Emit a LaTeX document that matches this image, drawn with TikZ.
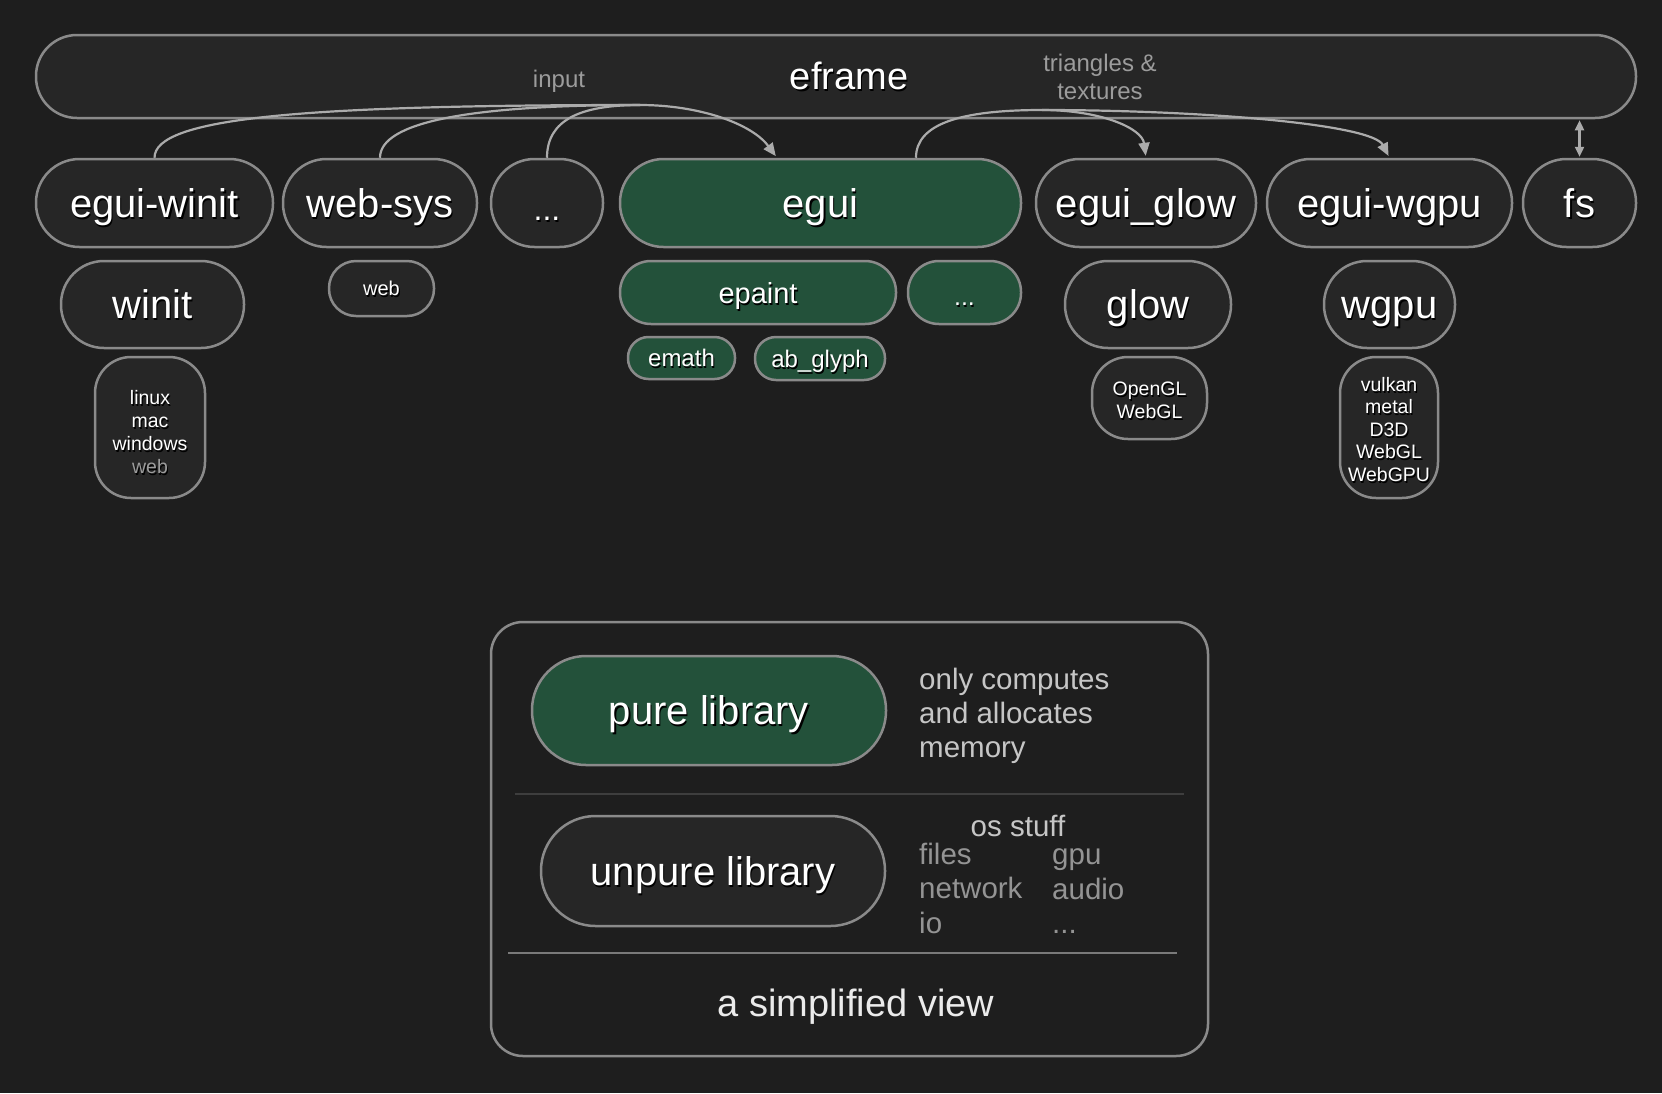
\documentclass[tikz,border=0pt]{standalone}
\usepackage{fontspec}
\setmainfont{Liberation Sans}
\usetikzlibrary{arrows.meta}
\definecolor{bg}{HTML}{1E1E1E}
\definecolor{nodefill}{HTML}{262626}
\definecolor{edgec}{HTML}{8A8A8A}
\definecolor{greenfill}{HTML}{23513A}
\definecolor{arrowc}{HTML}{ABABAB}
\definecolor{graytext}{HTML}{9C9C9C}
\definecolor{lighttext}{HTML}{C6C6C6}
\definecolor{dimtext}{HTML}{949494}
\definecolor{sepdark}{HTML}{3E3E3E}
\definecolor{seplight}{HTML}{7A7A7A}
\newcommand\shd[1]{\leavevmode\rlap{\kern1.2pt\raisebox{-2pt}{\textcolor{black}{#1}}}#1}
\newcommand\fsz[2]{\fontsize{#1}{#2}\selectfont}
\begin{document}
\begin{tikzpicture}[x=1pt,y=-1pt,
  pill/.style n args={3}{draw=edgec, line width=2.5pt, fill=nodefill,
    minimum width=#1, minimum height=#2, rounded corners=#3, inner sep=0pt,
    text=white},
  greenpill/.style n args={3}{pill={#1}{#2}{#3}, fill=greenfill},
  hugetxt/.style={font=\fsz{38}{44}, text height=35pt, text depth=7.8pt},
  bigtxt/.style={font=\fsz{40}{48}, text height=37pt, text depth=8.2pt},
  dotstxt/.style={font=\fsz{32}{38}, text height=41pt, text depth=6.4pt},
  midtxt/.style={font=\fsz{29}{34}, text height=27pt, text depth=6pt},
  smalltxt/.style={font=\fsz{24}{28}, text height=22.3pt, text depth=5pt},
  webtxt/.style={font=\fsz{20}{24}, text height=18.5pt, text depth=4.1pt},
  tinytxt/.style={font=\fsz{19.5}{22.8}},
  feed/.style={draw=arrowc, line width=2.2pt},
  conn/.style={feed, -{Triangle[length=13pt,width=11pt]}, shorten >=2pt},
  biconn/.style={feed, {Triangle[length=10pt,width=9pt]}-{Triangle[length=10pt,width=9pt]}, shorten >=1pt, shorten <=1pt},
  note/.style={inner sep=0pt, align=left, anchor=west},
  plain/.style={inner sep=0pt, align=center},
  lbl/.style={inner sep=0pt}
]
\fill[bg] (0,0) rectangle (1662,1093);
\useasboundingbox (0,0) rectangle (1662,1093);

% eframe
\node[pill={1600}{83}{41}] (eframe) at (836,76.5) {};
\node[lbl, hugetxt, text=white] (eframelbl) at (849,76) {\shd{eframe}};
\node[lbl, smalltxt, text=graytext] (inputlbl) at (559,79) {input};
\node[plain, font=\fsz{24}{27.6}, text=graytext] (trilbl) at (1100,77) {triangles \&\\textures};

% row 1
\node[pill={237}{88}{43.5}, bigtxt] (eguiwinit) at (154.5,203) {\shd{egui-winit}};
\node[pill={194}{88}{43.5}, bigtxt] (websys) at (380,203) {\shd{web-sys}};
\node[pill={112}{88}{43.5}, dotstxt] (dotsa) at (547,203) {\shd{...}};
\node[greenpill={401}{88}{43.5}, bigtxt] (egui) at (820.5,203) {\shd{egui}};
\node[pill={220}{88}{43.5}, bigtxt] (eguiglow) at (1146,203) {\shd{egui\_glow}};
\node[pill={245}{88}{43.5}, bigtxt] (eguiwgpu) at (1389.5,203) {\shd{egui-wgpu}};
\node[pill={113}{88}{43.5}, bigtxt] (fs) at (1579.5,203) {\shd{fs}};

% row 2
\node[pill={183}{87}{43}, bigtxt] (winit) at (152.5,304.5) {\shd{winit}};
\node[pill={105}{55}{27}, webtxt] (web) at (381.5,288.5) {\shd{web}};
\node[greenpill={276}{63}{31}, midtxt] (epaint) at (758,292.5) {\shd{epaint}};
\node[greenpill={113}{63}{31}, font=\fsz{25}{30}, text height=32pt, text depth=5.2pt] (dotsb) at (964.5,292.5) {\shd{...}};
\node[pill={166}{87}{43}, bigtxt] (glow) at (1148,304.5) {\shd{glow}};
\node[pill={131}{87}{43}, bigtxt] (wgpu) at (1389.5,304.5) {\shd{wgpu}};

% row 3
\node[greenpill={107}{42}{20.5}, smalltxt] (emath) at (681.5,358) {\shd{emath}};
\node[greenpill={130}{43}{21}, smalltxt] (abglyph) at (820,358.5) {\shd{ab\_glyph}};
\node[pill={110}{141}{36}] (platforms) at (150,427.5) {};
\node[plain, tinytxt, text=white] (platformstxt) at (150,433)
  {\shd{linux}\\\shd{mac}\\\shd{windows}\\\textcolor{graytext}{\shd{web}}};
\node[pill={115}{82}{36}] (gl) at (1149.5,398) {};
\node[plain, tinytxt, text=white] (gltxt) at (1149.5,401) {\shd{OpenGL}\\\shd{WebGL}};
\node[pill={98}{141}{36}] (backends) at (1389,427.5) {};
\node[plain, font=\fsz{19.5}{22.5}, text=white] (backendstxt) at (1389,430.5)
  {\shd{vulkan}\\\shd{metal}\\\shd{D3D}\\\shd{WebGL}\\\shd{WebGPU}};

% connectors: left group into egui
\coordinate (M) at (640,105);
\coordinate (N) at (1042,110);
\path[feed] (eguiwinit.north) .. controls (154.5,118) and (300,105) .. (M);
\path[feed] (websys.north) .. controls (380,122) and (470,105) .. (M);
\path[feed] (dotsa.north) .. controls (547,120) and (580,105) .. (M);
\path[conn] (M) .. controls (700,105) and (752,124) .. ([xshift=-43.5pt]egui.north);
% right group out of egui
\path[feed] ([xshift=95.5pt]egui.north) .. controls (916,124) and (960,110) .. (N);
\path[conn] (N) .. controls (1100,110) and (1142,128) .. (eguiglow.north);
\path[conn] (N) .. controls (1200,110) and (1372,124) .. (eguiwgpu.north);
% fs
\path[biconn] (fs.north |- eframe.south) -- (fs.north);

% legend
\node[draw=edgec, line width=2.5pt, fill=bg, minimum width=717, minimum height=434,
  rounded corners=32, inner sep=0pt] (legend) at (849.5,839) {};
\node[greenpill={354}{109}{54}, bigtxt] (pure) at (709,710.5) {\shd{pure library}};
\node[note, font=\fsz{29.5}{34}, text=lighttext] (purenote) at (919,716)
  {only computes\\and allocates\\memory};
\coordinate (sepaL) at (515,794);
\coordinate (sepaR) at (1184,794);
\draw[sepdark, line width=2.5pt] (sepaL) -- (sepaR);
\node[pill={344}{110}{54.5}, bigtxt] (unpure) at (713,871) {\shd{unpure library}};
\node[lbl, font=\fsz{29.5}{34}, text height=27.5pt, text depth=6.2pt, text=lighttext] (osstuff) at (1018,826) {os stuff};
\node[note, font=\fsz{29.5}{34.5}, text=dimtext] (oscola) at (919,888) {files\\network\\io};
\node[note, font=\fsz{29.5}{34.5}, text=dimtext] (oscolb) at (1052,891.5) {gpu\\audio\\...};
\coordinate (sepbL) at (508,953);
\coordinate (sepbR) at (1177,953);
\draw[seplight, line width=2.5pt] (sepbL) -- (sepbR);
\node[lbl, hugetxt, text=white!92!black] (simplified) at (856,1003) {a simplified view};
\end{tikzpicture}
\end{document}
